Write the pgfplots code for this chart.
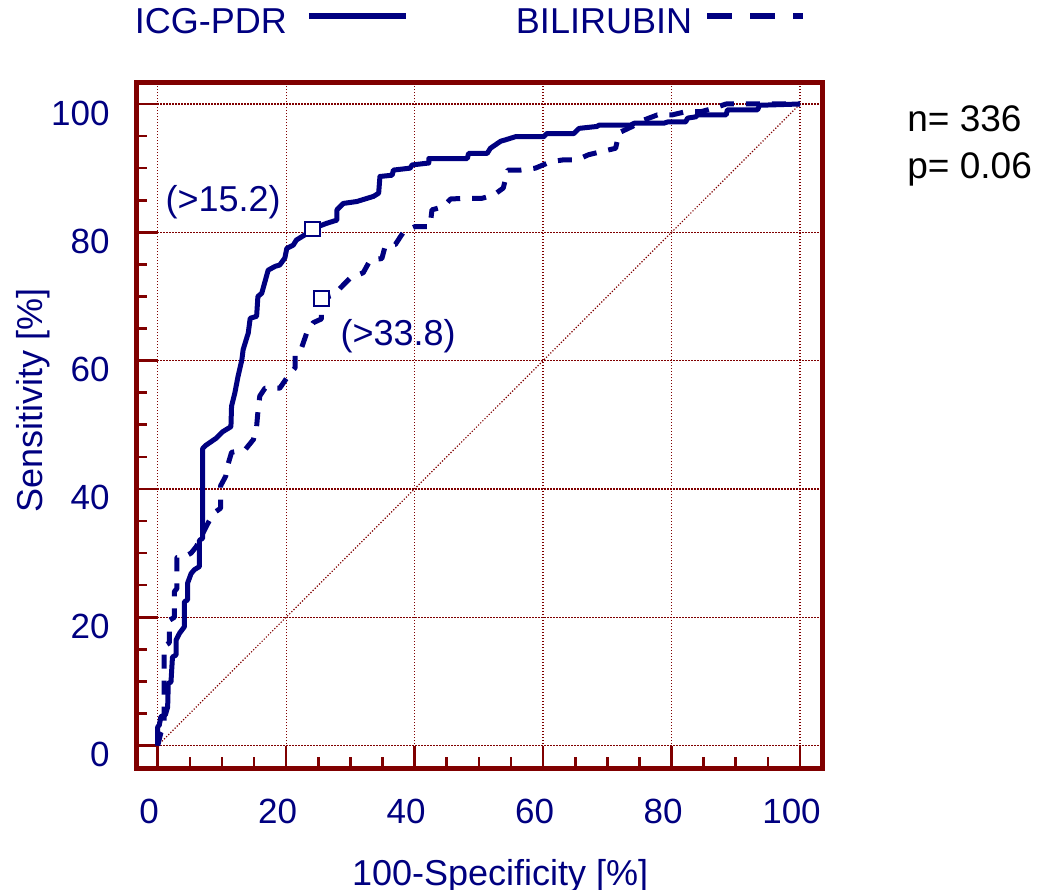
\documentclass[border=0pt]{standalone}
\usepackage{fontspec}
\setmainfont{Liberation Sans}
\usepackage{pgfplots}
\pgfplotsset{compat=1.18}
\definecolor{navy}{RGB}{0,0,128}
\definecolor{maroon}{RGB}{128,0,0}

\begin{document}
\fontsize{18pt}{21.6pt}\selectfont
\begin{tikzpicture}
\path[use as bounding box] (-68.25pt,-61pt) rectangle (457.25pt,384pt);
\begin{axis}[
  at={(0pt,0pt)}, anchor=south west,
  scale only axis, width=343pt, height=342.75pt,
  xmin=-3.3, xmax=103.5, ymin=-3.5, ymax=103.35,
  xtick={0,20,...,100}, ytick={0,20,...,100},
  minor tick num=3,
  tick align=inside, xtick pos=bottom, ytick pos=left,
  major tick length=11pt, minor tick length=5.5pt,
  tick style={maroon, line width=1.3pt},
  axis line style={maroon, line width=2.5pt},
  grid=major,
  major grid style={maroon, line width=0.6pt, dash pattern=on 0.6pt off 0.9pt},
  /pgf/number format/assume math mode=true,
  tick label style={text=navy, font=\fontsize{17.5pt}{20pt}\selectfont, inner sep=0pt},
  xticklabel style={anchor=center, yshift=-21.5pt, xshift=-4.25pt},
  yticklabel style={anchor=east, xshift=-13.25pt, yshift=-4.5pt},
  xlabel={100-Specificity [\%]},
  ylabel={Sensitivity [\%]},
  xlabel style={at={(axis description cs:0.530,-0.1707)}, anchor=base, inner sep=0pt, text=navy},
  ylabel style={at={(axis description cs:-0.1363,0.5368)}, anchor=base, inner sep=0pt, text=navy},
  legend columns=2, legend plot pos=right,
  legend style={at={(axis description cs:-0.0022,1.0863)}, anchor=west,
    draw=none, fill=none, inner sep=0pt, outer sep=0pt, column sep=0pt,
    text=navy, nodes={inner sep=0pt}},
  clip=false,
]
% diagonal reference line
\addplot[maroon, line width=0.6pt, dash pattern=on 0.6pt off 0.9pt, forget plot]
  coordinates {(0,0) (100,100)};

% ICG-PDR ROC curve
\addplot[navy, line width=2.5pt, line join=round,
  legend image code/.code={
    \path[draw=none] (0pt,0pt) -- (114.5pt,0pt);
    \draw[navy, line width=3pt, solid] (11pt,3.75pt) -- (59.5pt,3.75pt);
  }]
  coordinates {
  (0,0) (0,2.9) (0.25,3.2) (0.5,4.5) (1.2,4.8) (1.55,6.0) (1.65,9.7) (2.07,9.9)
  (2.3,13.8) (2.85,14.1) (2.85,16.4) (3.4,17.5) (4.15,18.5) (4.15,22.4) (4.65,22.7)
  (4.65,25.3) (5.2,26.8) (5.7,27.4) (6.5,27.9) (6.5,32.0) (7.0,32.3) (7.0,46.3)
  (7.5,46.8) (9.1,47.9) (10.1,48.9) (11.4,49.7) (11.5,52.9) (12.0,54.9) (12.5,57.5)
  (13.1,60.1) (13.3,61.7) (14.1,64.3) (14.4,66.6) (15.4,66.9) (15.6,70.0) (16.2,70.5)
  (17.2,74.1) (18.3,74.7) (19.0,74.9) (19.8,76.0) (20.1,77.5) (21.1,78.0) (21.6,78.8)
  (22.9,79.6) (24.0,80.4) (25.0,80.9) (26.3,81.4) (27.9,81.9) (27.9,83.5) (28.9,84.5)
  (31.0,84.8) (33.6,85.6) (34.4,86.1) (34.6,88.7) (36.5,88.9) (36.7,89.7) (39.3,90.0)
  (39.6,90.5) (42.2,90.8) (42.2,91.5) (48.2,91.5) (48.4,92.3) (51.3,92.3) (51.8,93.1)
  (53.4,94.2) (54.1,94.4) (55.7,94.9) (60.1,94.9) (60.6,95.4) (64.8,95.4) (65.6,96.2)
  (68.4,96.5) (68.7,96.7) (73.6,96.7) (74.2,97.0) (78.8,97.0) (79.4,97.2) (82.2,97.2)
  (82.5,97.8) (83.8,98.0) (84.0,98.3) (88.5,98.3) (88.7,99.1) (93.4,99.1) (93.7,99.8)
  (100,100)
  };
\addlegendentry{ICG-PDR}

% Bilirubin ROC curve
\addplot[navy, line width=2.5pt, line join=round, dash pattern=on 7pt off 6pt,
  legend image code/.code={
    \path[draw=none] (0pt,0pt) -- (55.5pt,0pt);
    \draw[navy, line width=3pt, dash pattern=on 12.5pt off 9pt] (7.5pt,3.75pt) -- (55.5pt,3.75pt);
  }]
  coordinates {
  (0,0) (0.5,2) (1.0,3) (1.0,15.5) (1.8,16) (1.8,19.5) (2.6,20) (2.6,24) (3.0,24.5)
  (3.0,29.3) (4.1,29.4) (5.2,30.0) (6.0,31.0) (7.0,33.0) (8.0,35.0) (8.7,36.2)
  (9.8,37.0) (9.8,40.5) (10.6,42.0) (11.0,44.0) (11.5,45.7) (13.6,46.1) (14.9,47.7)
  (15.4,49.7) (15.6,52.0) (15.9,54.5) (16.7,55.7) (19.0,55.7) (20.1,57.3) (21.4,58.9)
  (21.4,61.2) (22.4,62.0) (23.2,64.3) (24.2,65.9) (25.5,66.5) (25.5,69.7) (27.4,70.2)
  (28.9,71.8) (30.0,72.9) (32.0,73.7) (33.1,75.7) (34.9,75.9) (35.4,77.8) (37.0,78.1)
  (38.3,80.1) (40.1,80.9) (42.4,80.9) (42.7,83.5) (44.5,84.0) (45.6,85.2) (48.2,85.3)
  (50.5,85.3) (52.3,85.8) (53.8,86.9) (54.5,89.7) (56.5,89.7) (58.8,90.0) (61.2,91.0)
  (63.2,91.3) (65.3,91.3) (67.1,92.1) (69.2,92.6) (71.3,93.1) (71.8,95.5) (73.9,96.5)
  (75.7,97.5) (77.8,98.3) (80.1,98.3) (82.2,98.8) (84.6,98.8) (86.4,99.3) (88.5,100)
  (100,100)
  };
\addlegendentry{BILIRUBIN}

% criterion points
\addplot[only marks, mark=square*, mark size=3.7pt, forget plot,
  mark options={fill=white, draw=navy, line width=1pt, solid}]
  coordinates {(24.1,80.5) (25.5,69.7)};

\node[anchor=base east, inner sep=0pt, text=navy] at (axis cs:19.2,83.2) {(>15.2)};
\node[anchor=base west, inner sep=0pt, text=navy] at (axis cs:28.4,62.4) {(>33.8)};

\node[anchor=base west, inner sep=0pt, font=\fontsize{18.5pt}{22pt}\selectfont]
  at (axis description cs:1.1232,0.9282) {n= 336};
\node[anchor=base west, inner sep=0pt, font=\fontsize{18.5pt}{22pt}\selectfont]
  at (axis description cs:1.1232,0.8603) {p= 0.06};
\end{axis}
\end{tikzpicture}
\end{document}
